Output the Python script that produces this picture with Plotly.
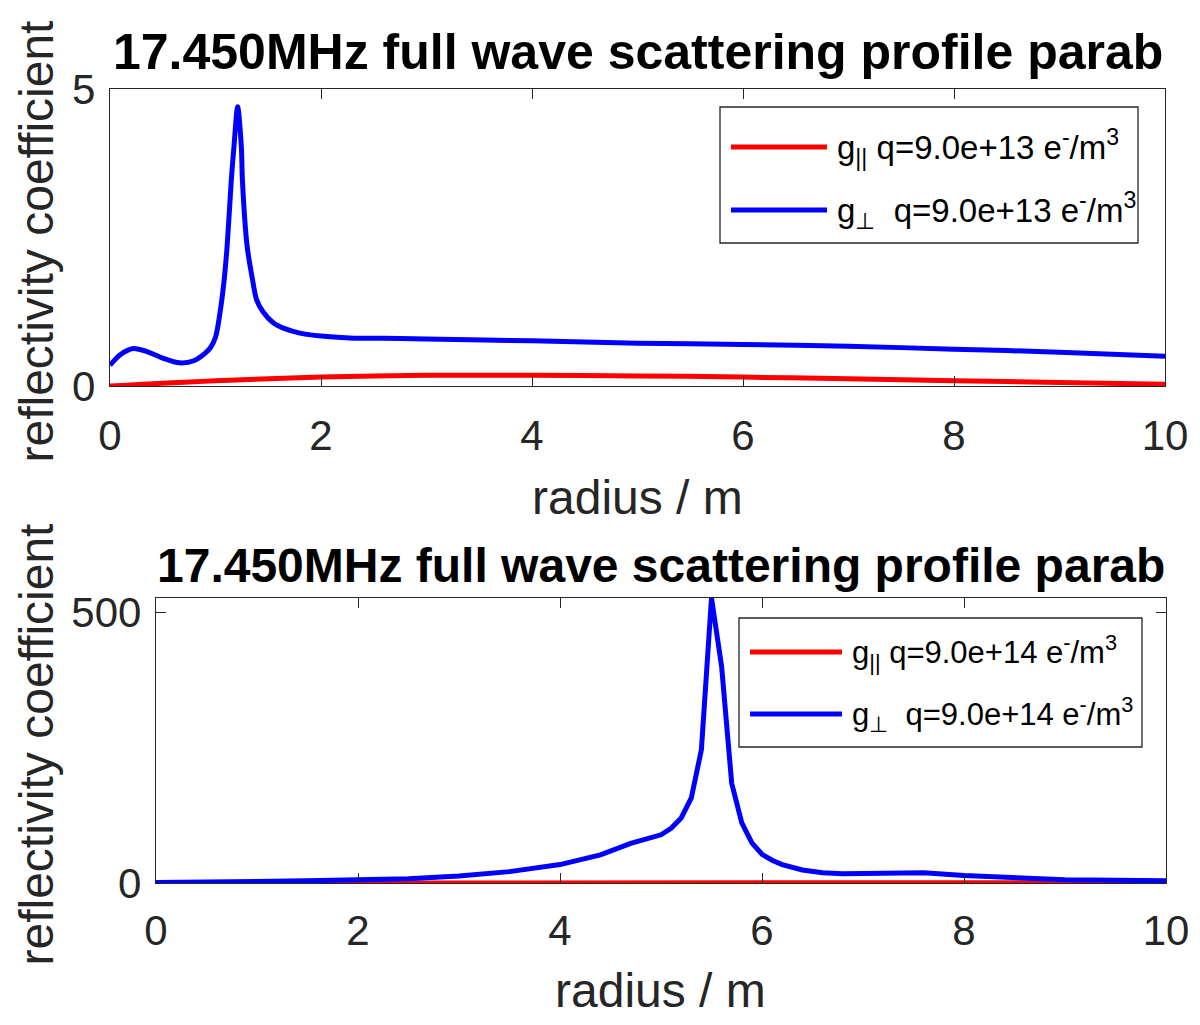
"""
plot.py
Two-panel reflectivity coefficient vs radius (MATLAB-style look) rebuilt in Plotly.
"""

import plotly.graph_objects as go

RED = "#FF0000"
BLUE = "#0000FF"
AXIS_COLOR = "#262626"
FONT = "Liberation Sans, Arial, Helvetica, sans-serif"
W, H = 1200, 1025
PAGE_PAD = 8  # default body margin of the html page

TITLE = "17.450MHz full wave scattering profile parab"
X_LABEL = "radius / m"
Y_LABEL = "reflectivity coefficient"

# --- top panel, q = 9.0e+13 ---
top_par_r = [0, 1, 2, 3, 4, 5, 6, 7, 8, 9, 10]
top_par = [0.0, 0.09, 0.15, 0.18, 0.18, 0.17, 0.15, 0.12, 0.09, 0.06, 0.03]

top_perp_r = [0.0, 0.1, 0.22, 0.35, 0.5, 0.66, 0.8, 0.9, 0.95, 1.0, 1.04, 1.08, 1.11, 1.15,
              1.175, 1.21, 1.245, 1.255, 1.30, 1.35, 1.39, 1.45, 1.55, 1.65, 1.8, 2.0,
              2.27, 2.75, 3, 4, 5, 6, 7, 8, 9, 10]
top_perp = [0.35, 0.53, 0.63, 0.58, 0.47, 0.39, 0.43, 0.55, 0.64, 0.82, 1.20, 1.75, 2.35, 3.47,
            4.03, 4.70, 4.03, 3.47, 2.35, 1.80, 1.45, 1.25, 1.06, 0.97, 0.89, 0.84,
            0.81, 0.80, 0.79, 0.76, 0.72, 0.70, 0.67, 0.62, 0.57, 0.50]

# --- bottom panel, q = 9.0e+14 ---
bot_par_r = [0, 2, 4, 5.5, 7, 8, 10]
bot_par = [0.0, 0.5, 1.0, 1.5, 1.5, 1.0, 0.5]

bot_perp_r = [0, 0.5, 1.0, 1.5, 2.0, 2.5, 3.0, 3.5, 4.0, 4.4, 4.7, 5.0, 5.1, 5.2,
              5.3, 5.4, 5.5, 5.6, 5.7, 5.8, 5.9, 6.0, 6.1, 6.2, 6.4, 6.6, 6.8,
              7.0, 7.3, 7.6, 8.0, 8.5, 9.0, 9.5, 10.0]
bot_perp = [1, 1.5, 2.5, 4, 6, 8, 13, 21, 34, 52, 73, 89, 101, 120,
            157, 246, 526, 400, 184, 111, 74, 53, 42, 34, 24, 19, 17,
            17, 19, 19, 14, 9, 6, 5, 4]

X_TICKS = [0, 2, 4, 6, 8, 10]
TOP_Y_TICKS = [0, 5]
BOT_Y_TICKS = [0, 500]

LEG_TOP = ["g<sub>||</sub> q=9.0e+13 e<sup>-</sup>/m<sup>3</sup>",
           "g<sub>⊥</sub>  q=9.0e+13 e<sup>-</sup>/m<sup>3</sup>"]
LEG_BOT = ["g<sub>||</sub> q=9.0e+14 e<sup>-</sup>/m<sup>3</sup>",
           "g<sub>⊥</sub>  q=9.0e+14 e<sup>-</sup>/m<sup>3</sup>"]

FW, FH = W - PAGE_PAD, H - PAGE_PAD


def px(x):
    # screen pixel -> paper fraction
    return (x - PAGE_PAD) / FW


def py(y):
    return 1 - (y - PAGE_PAD) / FH


def axis_style(**extra):
    base = dict(
        showline=True, linecolor=AXIS_COLOR, linewidth=1.3, mirror="ticks",
        ticks="inside", ticklen=10, tickcolor=AXIS_COLOR, tickwidth=1.3,
        showgrid=False, zeroline=False, automargin=False,
        tickfont=dict(family=FONT, size=42, color=AXIS_COLOR),
    )
    base.update(extra)
    return base


fig = go.Figure()
line_w = 5

fig.add_trace(go.Scatter(x=top_par_r, y=top_par, mode="lines", line=dict(color=RED, width=line_w, shape="spline"),
                         xaxis="x", yaxis="y", showlegend=False))
fig.add_trace(go.Scatter(x=top_perp_r, y=top_perp, mode="lines", line=dict(color=BLUE, width=line_w, shape="spline", smoothing=0.8),
                         xaxis="x", yaxis="y", showlegend=False))
fig.add_trace(go.Scatter(x=bot_par_r, y=bot_par, mode="lines", line=dict(color=RED, width=line_w),
                         xaxis="x2", yaxis="y2", showlegend=False))
fig.add_trace(go.Scatter(x=bot_perp_r, y=bot_perp, mode="lines", line=dict(color=BLUE, width=line_w),
                         xaxis="x2", yaxis="y2", showlegend=False))

# axes boxes in screen pixels (left, top, right, bottom)
top_box = (110, 89, 1165, 386)
bot_box = (156, 598, 1166, 883)

fig.update_layout(
    width=FW, height=FH,
    margin=dict(l=0, r=0, t=0, b=0, autoexpand=False),
    paper_bgcolor="white", plot_bgcolor="white",
    font=dict(family=FONT, color=AXIS_COLOR),
    xaxis=axis_style(domain=[px(top_box[0]), px(top_box[2])], range=[0, 10], tickvals=X_TICKS,
                     anchor="y", ticklabelstandoff=12),
    yaxis=axis_style(domain=[py(top_box[3]), py(top_box[1])], range=[0, 5], tickvals=TOP_Y_TICKS,
                     anchor="x", ticklabelstandoff=5),
    xaxis2=axis_style(domain=[px(bot_box[0]), px(bot_box[2])], range=[0, 10], tickvals=X_TICKS,
                      anchor="y2", ticklabelstandoff=10),
    yaxis2=axis_style(domain=[py(bot_box[3]), py(bot_box[1])], range=[0, 526], tickvals=BOT_Y_TICKS,
                      anchor="x2", ticklabelstandoff=5),
)

annotations = []
shapes = []
for box, title_y, title_size, xlab_y in [(top_box, 52, 50, 497), (bot_box, 565, 48, 990)]:
    cx = (box[0] + box[2]) / 2
    cy = (box[1] + box[3]) / 2
    annotations.append(dict(x=px(cx), y=py(title_y), xref="paper", yref="paper", text="<b>%s</b>" % TITLE,
                            showarrow=False, font=dict(family=FONT, size=title_size, color="black"),
                            xanchor="center", yanchor="middle"))
    annotations.append(dict(x=px(cx), y=py(xlab_y), xref="paper", yref="paper", text=X_LABEL,
                            showarrow=False, font=dict(family=FONT, size=48, color=AXIS_COLOR),
                            xanchor="center", yanchor="middle"))
    annotations.append(dict(x=px(36), y=py(cy + 4), xref="paper", yref="paper", text=Y_LABEL, textangle=-90,
                            showarrow=False, font=dict(family=FONT, size=48, color=AXIS_COLOR),
                            xanchor="center", yanchor="middle"))

# legends: (box, line x0, line x1, row ys, text x, font size, labels)
legends = [
    ((720, 107, 1138, 243), 731, 827, (147, 210), 835, 33, LEG_TOP),
    ((739, 618, 1142, 747), 750, 842, (652, 714), 850, 31, LEG_BOT),
]
for lbox, lx0, lx1, rows, tx, fsize, labels in legends:
    shapes.append(dict(type="rect", xref="paper", yref="paper",
                       x0=px(lbox[0]), x1=px(lbox[2]), y0=py(lbox[3]), y1=py(lbox[1]),
                       line=dict(color=AXIS_COLOR, width=1.3), fillcolor="white", layer="above"))
    for ry, color, label in zip(rows, [RED, BLUE], labels):
        shapes.append(dict(type="line", xref="paper", yref="paper",
                           x0=px(lx0), x1=px(lx1), y0=py(ry), y1=py(ry),
                           line=dict(color=color, width=line_w), layer="above"))
        annotations.append(dict(x=px(tx), y=py(ry), xref="paper", yref="paper", text=label,
                                showarrow=False, font=dict(family=FONT, size=fsize, color="black"),
                                xanchor="left", yanchor="middle"))

fig.update_layout(annotations=annotations, shapes=shapes)

fig.write_html("out.html")
